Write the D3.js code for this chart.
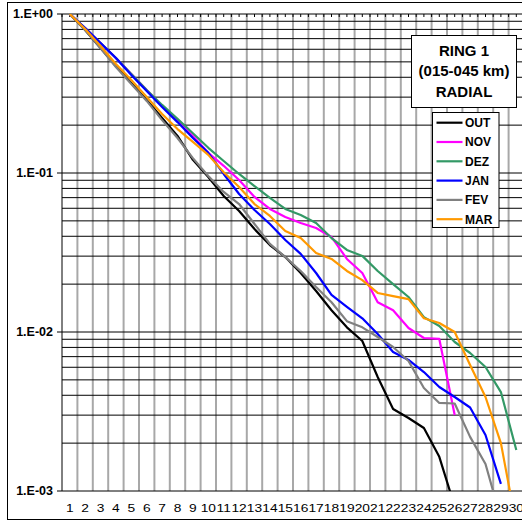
<!DOCTYPE html>
<html>
<head>
<meta charset="utf-8">
<script src="https://cdn.jsdelivr.net/npm/d3@7"></script>
<style>
  body { margin: 0; background: #fff; }
  svg { display: block; }
  text { font-family: "Liberation Sans", Arial, sans-serif; }
</style>
</head>
<body>
<div id="chart"></div>
<script>
// data
const days = [1, 2, 3, 4, 5, 6, 7, 8, 9, 10, 11, 12, 13, 14, 15, 16, 17, 18, 19, 20,
  21, 22, 23, 24, 25, 26, 27, 28, 29, 30];

const out = [1, 0.793, 0.611, 0.471, 0.368, 0.288, 0.222, 0.171, 0.121, 0.0944,
  0.0717, 0.0577, 0.0444, 0.0352, 0.0296, 0.0235, 0.0181, 0.0137, 0.0107, 0.00878,
  0.00521, 0.00328, 0.00288, 0.00249, 0.00164, 0.0008, null, null, null, null];
const nov = [1, 0.816, 0.657, 0.529, 0.419, 0.333, 0.264, 0.212, 0.171, 0.134,
  0.111, 0.0904, 0.0707, 0.0594, 0.0529, 0.0485, 0.0451, 0.0396, 0.0288, 0.0235,
  0.0154, 0.0137, 0.0106, 0.00917, 0.00904, 0.00301, null, null, null, null];
const dez = [1, 0.816, 0.657, 0.529, 0.419, 0.333, 0.268, 0.219, 0.178, 0.144,
  0.119, 0.0986, 0.0828, 0.0697, 0.0594, 0.0544, 0.0485, 0.039, 0.0328, 0.0301,
  0.0242, 0.02, 0.0166, 0.0124, 0.0109, 0.00865, 0.00738, 0.00602, 0.00419, 0.00181];
const jan = [1, 0.816, 0.657, 0.529, 0.413, 0.328, 0.26, 0.209, 0.166, 0.134,
  0.0986, 0.0738, 0.0585, 0.0478, 0.0379, 0.031, 0.0235, 0.0171, 0.0144, 0.0122,
  0.00971, 0.00748, 0.00667, 0.0056, 0.00451, 0.0039, 0.00335, 0.00225, 0.00111, null];
const fev = [1, 0.793, 0.611, 0.464, 0.363, 0.284, 0.215, 0.166, 0.124, 0.0957,
  0.076, 0.0638, 0.0478, 0.0358, 0.0296, 0.0242, 0.0192, 0.0154, 0.0117, 0.0107,
  0.0093, 0.00805, 0.00657, 0.00444, 0.00358, 0.00355, 0.00219, 0.00148, 0.00067, null];
const mar = [1, 0.805, 0.629, 0.485, 0.385, 0.301, 0.235, 0.189, 0.157, 0.13,
  0.101, 0.0817, 0.0638, 0.0537, 0.0432, 0.039, 0.0314, 0.0288, 0.0242, 0.0212,
  0.0176, 0.0168, 0.0161, 0.0122, 0.0114, 0.01, 0.0062, 0.0039, 0.002, 0.00061];

const seriesNames = ["OUT", "NOV", "DEZ", "JAN", "FEV", "MAR"];
const seriesColors = ["#000000", "#ff00ff", "#339966", "#0000ff", "#808080", "#ff9900"];
const seriesValues = [out, nov, dez, jan, fev, mar];

const yTicks = [1, 0.1, 0.01, 0.001];
const yTickLabels = ["1.E+00", "1.E-01", "1.E-02", "1.E-03"];
const titleLines = ["RING 1", "(015-045 km)", "RADIAL"];

const W = 522, H = 522;
const plot = { left: 62, right: 524, top: 14, bottom: 491 };

const svg = d3.select("#chart").append("svg")
  .attr("width", W)
  .attr("height", H);

// outer chart border
svg.append("rect")
  .attr("x", 7.5).attr("y", 2.5)
  .attr("width", 540).attr("height", 517)
  .attr("fill", "#fff")
  .attr("stroke", "#000")
  .attr("stroke-width", 1);

const x = d3.scaleBand().domain(days).range([plot.left, plot.right]);
const y = d3.scaleLog().domain([0.001, 1]).range([plot.bottom, plot.top]);
const cx = (d) => x(d) + x.bandwidth() / 2;

// vertical grid (between categories)
svg.append("g")
  .selectAll("line")
  .data(days.slice(1))
  .join("line")
  .attr("x1", (d) => x(d)).attr("x2", (d) => x(d))
  .attr("y1", plot.top).attr("y2", plot.bottom)
  .attr("stroke", "#a8a8a8")
  .attr("stroke-width", 2);

// horizontal grid, log minors and majors
svg.append("g")
  .selectAll("line")
  .data(y.ticks())
  .join("line")
  .attr("x1", plot.left).attr("x2", plot.right)
  .attr("y1", (d) => y(d)).attr("y2", (d) => y(d))
  .attr("stroke", "#000")
  .attr("stroke-width", 1);

// top axis with small inward ticks
const topTicks = [];
days.forEach((d) => { topTicks.push(x(d)); topTicks.push(cx(d)); });
svg.append("g")
  .selectAll("line")
  .data(topTicks)
  .join("line")
  .attr("x1", (d) => d).attr("x2", (d) => d)
  .attr("y1", plot.top).attr("y2", plot.top + 3)
  .attr("stroke", "#000");

// y axis
svg.append("line")
  .attr("x1", plot.left).attr("x2", plot.left)
  .attr("y1", plot.top).attr("y2", plot.bottom)
  .attr("stroke", "#000");
const yAx = svg.append("g");
yAx.selectAll("line")
  .data(yTicks)
  .join("line")
  .attr("x1", plot.left - 5).attr("x2", plot.left)
  .attr("y1", (d) => y(d)).attr("y2", (d) => y(d))
  .attr("stroke", "#000");
yAx.selectAll("text")
  .data(yTicks)
  .join("text")
  .attr("x", plot.left - 9)
  .attr("y", (d) => y(d))
  .attr("dy", "0.35em")
  .attr("text-anchor", "end")
  .style("font-size", "12.5px")
  .style("font-weight", "bold")
  .text((d, i) => yTickLabels[i]);

// x labels, slightly stretched like the original
svg.append("g")
  .selectAll("text")
  .data(days)
  .join("text")
  .attr("transform", (d) => `translate(${cx(d)},${512}) scale(1.25,1)`)
  .attr("text-anchor", "middle")
  .style("font-size", "11px")
  .text((d) => d);

// series
svg.append("clipPath").attr("id", "clip")
  .append("rect")
  .attr("x", plot.left).attr("y", plot.top)
  .attr("width", plot.right - plot.left).attr("height", plot.bottom - plot.top);

const line = d3.line()
  .defined((d) => d != null)
  .x((d, i) => cx(days[i]))
  .y((d) => y(d));

svg.append("g")
  .attr("clip-path", "url(#clip)")
  .selectAll("path")
  .data(seriesValues)
  .join("path")
  .attr("d", line)
  .attr("fill", "none")
  .attr("stroke", (d, i) => seriesColors[i])
  .attr("stroke-width", 2.2)
  .attr("stroke-linejoin", "round");

// title box
const tb = svg.append("g");
tb.append("rect")
  .attr("x", 411.5).attr("y", 35.5)
  .attr("width", 105).attr("height", 72)
  .attr("fill", "#fff")
  .attr("stroke", "#000");
tb.selectAll("text")
  .data(titleLines)
  .join("text")
  .attr("x", 464)
  .attr("y", (d, i) => 56 + i * 20.3)
  .attr("text-anchor", "middle")
  .style("font-size", "15px")
  .style("font-weight", "bold")
  .text((d) => d);

// legend
const lg = svg.append("g");
lg.append("rect")
  .attr("x", 432.5).attr("y", 112.5)
  .attr("width", 66.5).attr("height", 115)
  .attr("fill", "#fff")
  .attr("stroke", "#000");
const item = lg.selectAll("g")
  .data(seriesNames)
  .join("g")
  .attr("transform", (d, i) => `translate(0,${122.7 + i * 19.3})`);
item.append("line")
  .attr("x1", 436.5).attr("x2", 462.5)
  .attr("stroke", (d, i) => seriesColors[i])
  .attr("stroke-width", 2.2);
item.append("text")
  .attr("x", 465)
  .attr("dy", "0.36em")
  .style("font-size", "12px")
  .style("font-weight", "bold")
  .text((d) => d);
</script>
</body>
</html>
